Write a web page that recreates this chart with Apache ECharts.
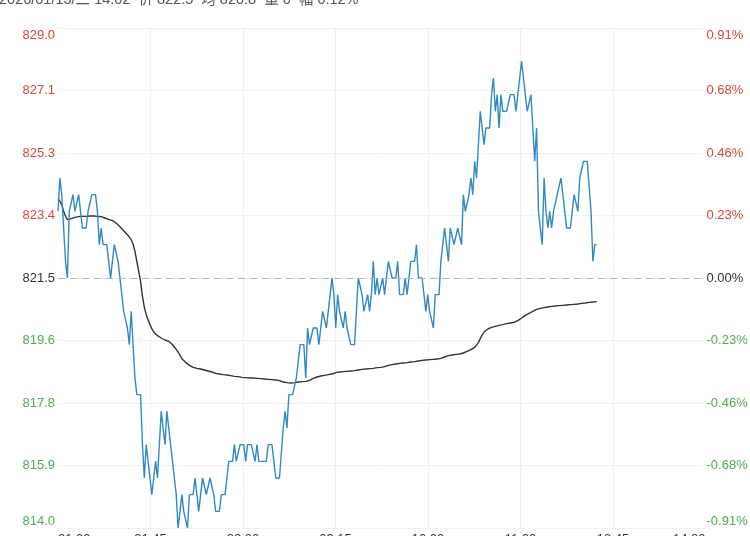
<!DOCTYPE html>
<html>
<head>
<meta charset="utf-8">
<title>分时图</title>
<script src="https://cdn.jsdelivr.net/npm/echarts@6/dist/echarts.min.js"></script>
<style>
  html, body { margin: 0; padding: 0; background: #fff; }
  #main { width: 750px; height: 536px; }
</style>
</head>
<body>
<div id="main"></div>
<script>
// 分时数据：前收 821.5，一分钟一个点（21:00 开始，截至 14:02）
var HEADER = '2026/01/13/二 14:02  价 822.5  均 820.8  量 0  幅 0.12%';
var TIME_LABELS = ['21:00', '21:45', '22:30', '09:15', '10:00', '11:00', '13:45', '14:30'];
var SESSION_MINUTES = 345;   // 21:00-23:00, 09:00-10:15, 10:30-11:30, 13:30-15:00
var PREV_CLOSE = 821.5;
var Y_MIN = 814.0;
var Y_MAX = 829.0;
var Y_STEP = 1.875;

var PRICE = [
  823.5, 824.5, 824.0, 823.0, 822.0, 821.5, 823.5, 823.5, 824.0, 823.5,
  823.5, 824.0, 824.0, 823.0, 823.0, 823.0, 823.5, 823.5, 824.0, 824.0,
  824.0, 823.5, 822.5, 823.0, 822.5, 822.5, 822.5, 822.0, 821.5, 822.0,
  822.5, 822.5, 822.0, 821.5, 821.0, 820.5, 820.5, 820.0, 819.5, 820.5,
  819.5, 818.5, 818.0, 818.0, 818.0, 816.5, 815.5, 816.5, 816.0, 816.0,
  815.0, 815.5, 816.0, 815.5, 815.5, 817.5, 817.0, 816.5, 817.5, 817.0,
  817.0, 816.0, 815.5, 815.0, 814.0, 814.5, 815.0, 814.5, 814.5, 814.0,
  815.0, 815.0, 815.0, 815.5, 815.5, 814.5, 815.0, 815.5, 815.5, 815.0,
  815.0, 815.5, 815.5, 815.0, 814.5, 814.5, 814.5, 815.0, 815.0, 815.0,
  815.5, 816.0, 816.0, 816.0, 816.5, 816.0, 816.0, 816.5, 816.5, 816.5,
  816.0, 816.5, 816.5, 816.5, 816.5, 816.0, 816.5, 816.0, 816.0, 816.0,
  816.0, 816.0, 816.5, 816.5, 816.5, 816.0, 815.5, 815.5, 815.5, 815.5,
  817.0, 817.5, 817.0, 818.0, 818.0, 818.0, 818.0, 818.5, 819.0, 819.5,
  819.5, 819.5, 818.5, 820.0, 819.5, 819.5, 820.0, 820.0, 820.0, 819.5,
  820.0, 820.5, 820.5, 820.0, 820.5, 821.0, 821.5, 821.0, 820.0, 821.0,
  820.5, 820.5, 820.0, 820.5, 820.0, 820.0, 819.5, 819.5, 819.5, 820.5,
  821.5, 821.5, 821.0, 820.5, 820.5, 821.0, 820.5, 821.0, 822.0, 821.0,
  821.5, 821.0, 821.0, 821.5, 821.0, 821.5, 822.0, 822.0, 821.5, 821.5,
  821.5, 822.0, 821.0, 821.0, 821.0, 821.5, 821.0, 821.5, 822.0, 822.0,
  822.0, 822.5, 821.5, 821.5, 821.5, 821.0, 820.5, 821.0, 820.5, 820.5,
  820.0, 821.0, 821.0, 821.0, 822.0, 822.5, 823.0, 822.5, 822.0, 823.0,
  823.0, 822.5, 822.5, 823.0, 823.0, 822.5, 824.0, 823.5, 823.5, 824.0,
  824.5, 824.0, 825.0, 824.5, 825.5, 826.5, 826.0, 825.5, 826.0, 826.0,
  826.0, 827.0, 827.5, 826.5, 827.0, 826.0, 827.0, 826.5, 826.5, 826.5,
  826.5, 827.0, 827.0, 827.0, 826.5, 826.5, 827.5, 828.0, 827.5, 827.5,
  826.5, 826.5, 827.0, 826.0, 825.0, 826.0, 823.5, 823.0, 822.5, 824.5,
  823.5, 823.0, 823.5, 823.0, 823.5, 823.5, 824.0, 824.0, 824.5, 824.0,
  824.0, 823.0, 823.0, 823.0, 823.5, 824.0, 824.0, 823.5, 824.5, 824.5,
  825.0, 825.0, 825.0, 825.0, 823.5, 822.0, 822.5, 822.5
];

var AVG = [
  823.90, 823.85, 823.70, 823.50, 823.35, 823.25, 823.25, 823.28, 823.30, 823.32,
  823.33, 823.34, 823.35, 823.35, 823.35, 823.35, 823.36, 823.36, 823.36, 823.36,
  823.36, 823.35, 823.35, 823.34, 823.32, 823.30, 823.28, 823.26, 823.24, 823.22,
  823.20, 823.15, 823.10, 823.04, 822.98, 822.92, 822.86, 822.80, 822.74, 822.65,
  822.52, 822.30, 822.00, 821.70, 821.40, 820.95, 820.62, 820.40, 820.25, 820.10,
  819.98, 819.88, 819.82, 819.77, 819.73, 819.70, 819.67, 819.64, 819.62, 819.60,
  819.56, 819.50, 819.43, 819.36, 819.28, 819.18, 819.08, 819.02, 818.97, 818.92,
  818.88, 818.84, 818.82, 818.80, 818.79, 818.78, 818.77, 818.76, 818.74, 818.73,
  818.71, 818.70, 818.68, 818.66, 818.64, 818.63, 818.62, 818.61, 818.60, 818.59,
  818.59, 818.58, 818.57, 818.56, 818.55, 818.54, 818.54, 818.53, 818.52, 818.52,
  818.51, 818.51, 818.50, 818.50, 818.50, 818.49, 818.49, 818.48, 818.48, 818.47,
  818.47, 818.47, 818.46, 818.46, 818.45, 818.45, 818.44, 818.44, 818.42, 818.40,
  818.38, 818.37, 818.36, 818.36, 818.35, 818.35, 818.36, 818.37, 818.38, 818.39,
  818.39, 818.40, 818.40, 818.41, 818.43, 818.46, 818.49, 818.51, 818.53, 818.55,
  818.56, 818.57, 818.58, 818.59, 818.60, 818.61, 818.62, 818.64, 818.66, 818.67,
  818.68, 818.68, 818.69, 818.69, 818.70, 818.70, 818.71, 818.71, 818.72, 818.73,
  818.74, 818.75, 818.76, 818.77, 818.77, 818.78, 818.78, 818.79, 818.79, 818.80,
  818.81, 818.81, 818.82, 818.83, 818.84, 818.86, 818.88, 818.89, 818.90, 818.91,
  818.92, 818.93, 818.94, 818.94, 818.95, 818.96, 818.96, 818.97, 818.98, 818.98,
  818.99, 819.00, 819.01, 819.02, 819.03, 819.04, 819.04, 819.05, 819.05, 819.06,
  819.06, 819.07, 819.07, 819.08, 819.09, 819.11, 819.13, 819.15, 819.17, 819.18,
  819.19, 819.20, 819.21, 819.21, 819.22, 819.23, 819.25, 819.27, 819.30, 819.32,
  819.35, 819.38, 819.42, 819.47, 819.56, 819.68, 819.79, 819.88, 819.94, 819.97,
  820.00, 820.02, 820.04, 820.05, 820.07, 820.08, 820.09, 820.10, 820.11, 820.13,
  820.14, 820.15, 820.16, 820.17, 820.19, 820.22, 820.26, 820.30, 820.34, 820.38,
  820.41, 820.44, 820.47, 820.50, 820.53, 820.56, 820.58, 820.59, 820.60, 820.61,
  820.62, 820.63, 820.64, 820.65, 820.66, 820.66, 820.67, 820.67, 820.68, 820.68,
  820.69, 820.69, 820.70, 820.70, 820.71, 820.71, 820.72, 820.72, 820.73, 820.74,
  820.75, 820.75, 820.76, 820.77, 820.77, 820.78, 820.78, 820.79
];

var RED = '#d8473b';
var GREEN = '#4caf50';
var FLAT = '#333';
var FONT = '"Liberation Sans", "Noto Sans CJK SC", sans-serif';

// x 轴刻度 0..7 对应八个时间标签；y 轴以 Y_MIN 为零点，这样刻度从 0 开始
var XS = TIME_LABELS.length - 1;
function toPoint(v, i) { return [i * XS / SESSION_MINUTES, v - Y_MIN]; }
var priceData = PRICE.map(toPoint);
var avgData = AVG.map(toPoint);
var yZero = PREV_CLOSE - Y_MIN;
var yTop = Y_MAX - Y_MIN;

function labelKey(v) {
  var k = Math.abs(v - yZero) < 1e-6 ? 'eq' : (v > yZero ? 'up' : 'dn');
  if (v >= yTop - 1e-6) k += 'T';
  if (v <= 1e-6) k += 'B';
  return k;
}

var rich = {
  up: { color: RED }, dn: { color: GREEN }, eq: { color: FLAT },
  upT: { color: RED, padding: [14, 0, 0, 0] },
  dnB: { color: GREEN, padding: [0, 0, 14, 0] }
};

var myChart = echarts.init(document.getElementById('main'), null, { renderer: 'canvas' });

var option = {
  animation: false,
  backgroundColor: '#fff',
  textStyle: { fontFamily: FONT },
  graphic: [{
    type: 'text',
    x: -1,
    y: -7,
    style: {
      text: HEADER,
      fill: '#555',
      font: '14.5px ' + FONT,
      textVerticalAlign: 'top'
    }
  }],
  grid: { left: 58, right: 44.5, top: 28, bottom: 8, containLabel: false, outerBoundsMode: 'none' },
  xAxis: {
    type: 'value',
    min: 0,
    max: XS,
    interval: 1,
    axisLine: { show: false },
    axisTick: { show: false },
    axisLabel: {
      margin: 5,
      fontSize: 13,
      color: '#333',
      fontFamily: FONT,
      alignMinLabel: 'left',
      alignMaxLabel: 'right',
      formatter: function (v) { return TIME_LABELS[Math.round(v)]; }
    },
    splitLine: { show: true, showMinLine: false, showMaxLine: false, lineStyle: { color: '#f0f0f0' } }
  },
  yAxis: [{
    type: 'value',
    position: 'left',
    min: 0,
    max: yTop,
    interval: Y_STEP,
    axisLine: { show: false },
    axisTick: { show: false },
    axisLabel: {
      margin: 3,
      fontSize: 13,
      fontFamily: FONT,
      formatter: function (v) {
        return '{' + labelKey(v) + '|' + (v + Y_MIN).toFixed(1) + '}';
      },
      rich: rich
    },
    splitLine: { show: true, lineStyle: { color: '#f0f0f0' } }
  }, {
    type: 'value',
    position: 'right',
    min: 0,
    max: yTop,
    interval: Y_STEP,
    axisLine: { show: false },
    axisTick: { show: false },
    axisLabel: {
      margin: 1,
      fontSize: 13,
      fontFamily: FONT,
      formatter: function (v) {
        var pct = (v - yZero) / PREV_CLOSE * 100;
        if (Math.abs(pct) < 1e-6) pct = 0;
        return '{' + labelKey(v) + '|' + pct.toFixed(2) + '%}';
      },
      rich: rich
    },
    splitLine: { show: false }
  }],
  series: [{
    name: '价格',
    type: 'line',
    data: priceData,
    showSymbol: false,
    symbol: 'none',
    lineStyle: { color: '#3189c4', width: 1.4 },
    markLine: {
      silent: true,
      symbol: 'none',
      label: { show: false },
      lineStyle: { color: '#b5b5b5', type: [7, 5], width: 1 },
      data: [{ yAxis: yZero }]
    },
    z: 3
  }, {
    name: '均价',
    type: 'line',
    data: avgData,
    showSymbol: false,
    symbol: 'none',
    lineStyle: { color: '#333', width: 1.4 },
    z: 2
  }]
};

myChart.setOption(option);
</script>
</body>
</html>
